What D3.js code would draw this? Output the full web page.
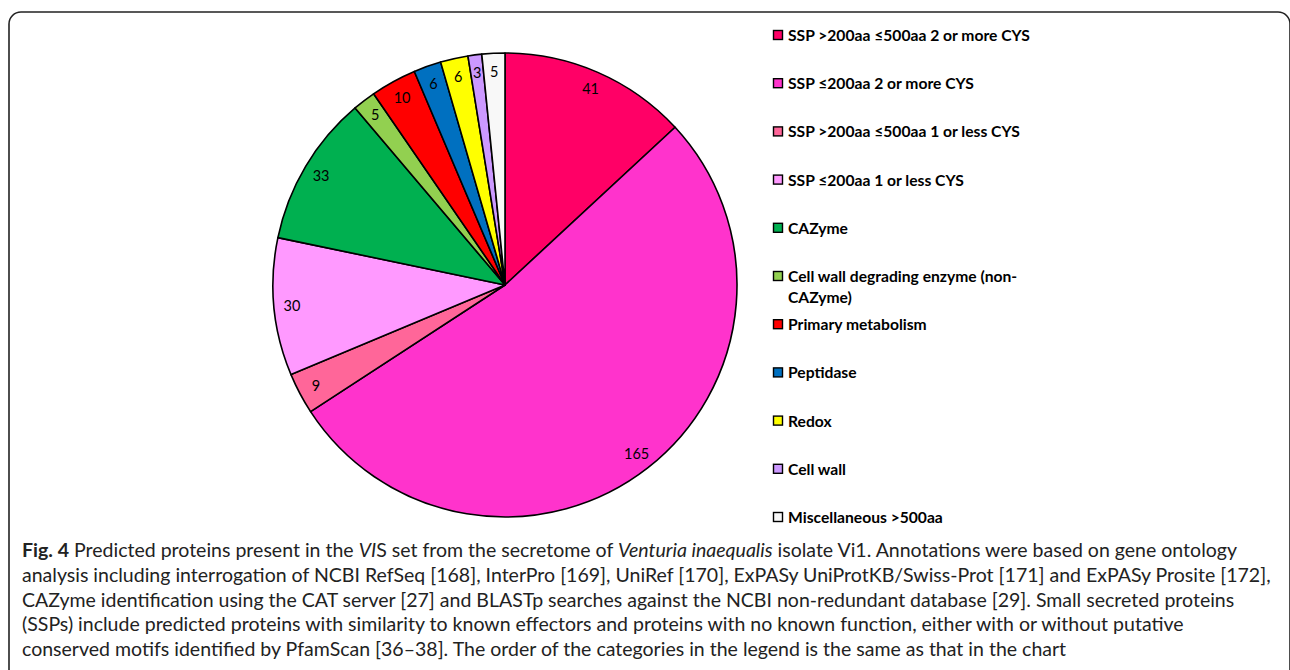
<!DOCTYPE html>
<html>
<head>
<meta charset="utf-8">
<script src="https://cdn.jsdelivr.net/npm/d3@7/dist/d3.min.js"></script>
<style>
  html, body { margin: 0; padding: 0; background: #fff; }
  svg { display: block; }
</style>
</head>
<body>
<svg id="chart" width="1290" height="670"></svg>
<script>
// Secretome categories, in chart (clockwise) order
const categories = [
  "SSP >200aa \u2264500aa 2 or more CYS",
  "SSP \u2264200aa 2 or more CYS",
  "SSP >200aa \u2264500aa 1 or less CYS",
  "SSP \u2264200aa 1 or less CYS",
  "CAZyme",
  "Cell wall degrading enzyme (non-CAZyme)",
  "Primary metabolism",
  "Peptidase",
  "Redox",
  "Cell wall",
  "Miscellaneous >500aa"
];
const counts = [41, 165, 9, 30, 33, 5, 10, 6, 6, 3, 5];
const colors = ["#FF0066", "#FF33CC", "#FF6699", "#FF99FF", "#00B050", "#92D050",
                "#FF0000", "#0070C0", "#FFFF00", "#CC99FF", "#F8F8F8"];
// legend entries that wrap onto a second line
const legendLines = [
  ["SSP >200aa \u2264500aa 2 or more CYS"],
  ["SSP \u2264200aa 2 or more CYS"],
  ["SSP >200aa \u2264500aa 1 or less CYS"],
  ["SSP \u2264200aa 1 or less CYS"],
  ["CAZyme"],
  ["Cell wall degrading enzyme (non-", "CAZyme)"],
  ["Primary metabolism"],
  ["Peptidase"],
  ["Redox"],
  ["Cell wall"],
  ["Miscellaneous >500aa"]
];

const svg = d3.select("#chart");

// rounded frame around the figure
const frame = d3.path();
frame.moveTo(9, 690);
frame.lineTo(9, 24);
frame.arcTo(9, 12, 21, 12, 12);
frame.lineTo(1278, 12);
frame.arcTo(1290, 12, 1290, 24, 12);
frame.lineTo(1290, 690);
svg.append("path").attr("d", frame.toString())
  .attr("fill", "none").attr("stroke", "#222").attr("stroke-width", 1.6);

// pie
const cx = 505, cy = 285, R = 232;
const pie = d3.pie().sort(null).value(d => d.value);
const arcs = pie(counts.map((v, i) => ({ value: v, i })));
const arc = d3.arc().innerRadius(0).outerRadius(R);
const labelArc = d3.arc().innerRadius(214).outerRadius(214);
const color = d3.scaleOrdinal().domain(d3.range(categories.length)).range(colors);

const g = svg.append("g").attr("transform", `translate(${cx},${cy})`);
g.selectAll("path.slice").data(arcs).join("path")
  .attr("class", "slice")
  .attr("d", arc)
  .attr("fill", d => color(d.data.i))
  .attr("stroke", "#000")
  .attr("stroke-width", 1.6)
  .attr("stroke-linejoin", "round");

g.selectAll("text.val").data(arcs).join("text")
  .attr("class", "val")
  .attr("transform", d => `translate(${labelArc.centroid(d)})`)
  .attr("text-anchor", "middle")
  .attr("dominant-baseline", "central")
  .attr("font-family", "Lato, 'Open Sans', sans-serif")
  .attr("font-size", 14.5)
  .attr("fill", "#000")
  .text(d => d.data.value);

// legend
const legendY = d3.scaleLinear().domain([0, categories.length - 1]).range([35, 517]);
const lg = svg.append("g");
legendLines.forEach((lines, i) => {
  const y = legendY(i);
  lg.append("rect")
    .attr("x", 773.5).attr("y", y - 4.5)
    .attr("width", 9).attr("height", 9)
    .attr("fill", colors[i]).attr("stroke", "#000").attr("stroke-width", 1.4);
  lines.forEach((t, k) => {
    lg.append("text")
      .attr("class", "leg")
      .attr("x", 788).attr("y", y + k * 21)
      .attr("dominant-baseline", "central")
      .attr("font-family", "Lato, 'Open Sans', sans-serif")
      .attr("font-weight", 700)
      .attr("font-size", 15)
      .attr("fill", "#000")
      .text(t);
  });
});
// size the legend font so the longest entry spans its column
{
  const first = lg.select("text.leg").node();
  const s = 15 * 242 / first.getComputedTextLength();
  lg.selectAll("text.leg").attr("font-size", s);
}

// caption (ragged right, natural widths)
const captionLines = [
  [ { t: "Fig. 4", w: 700 }, { t: " Predicted proteins present in the " },
    { t: "VI", s: "italic" }, { t: "S set from the secretome of " },
    { t: "Venturia inaequalis", s: "italic" },
    { t: " isolate Vi1. Annotations were based on gene ontology" } ],
  [ { t: "analysis including interrogation of NCBI RefSeq [168], InterPro [169], UniRef [170], ExPASy UniProtKB/Swiss-Prot [171] and ExPASy Prosite [172]," } ],
  [ { t: "CAZyme identification using the CAT server [27] and BLASTp searches against the NCBI non-redundant database [29]. Small secreted proteins" } ],
  [ { t: "(SSPs) include predicted proteins with similarity to known effectors and proteins with no known function, either with or without putative" } ],
  [ { t: "conserved motifs identified by PfamScan [36\u201338]. The order of the categories in the legend is the same as that in the chart" } ]
];
const capX = 22;
const capY = d3.scaleLinear().domain([0, 4]).range([549, 648]);
const capTexts = captionLines.map((parts, i) => {
  const txt = svg.append("text")
    .attr("x", capX).attr("y", capY(i))
    .attr("dominant-baseline", "central")
    .attr("font-family", "Lato, 'Open Sans', sans-serif")
    .attr("font-size", 17)
    .attr("fill", "#222");
  parts.forEach(p => {
    txt.append("tspan")
      .attr("font-weight", p.w || 400)
      .attr("font-style", p.s || "normal")
      .text(p.t);
  });
  return txt;
});
// scale the caption so the third line ends just before the right edge
{
  const w3 = capTexts[2].node().getComputedTextLength();
  const size = 17 * (1235 - capX) / w3;
  capTexts.forEach(t => t.attr("font-size", size));
}
</script>
</body>
</html>
